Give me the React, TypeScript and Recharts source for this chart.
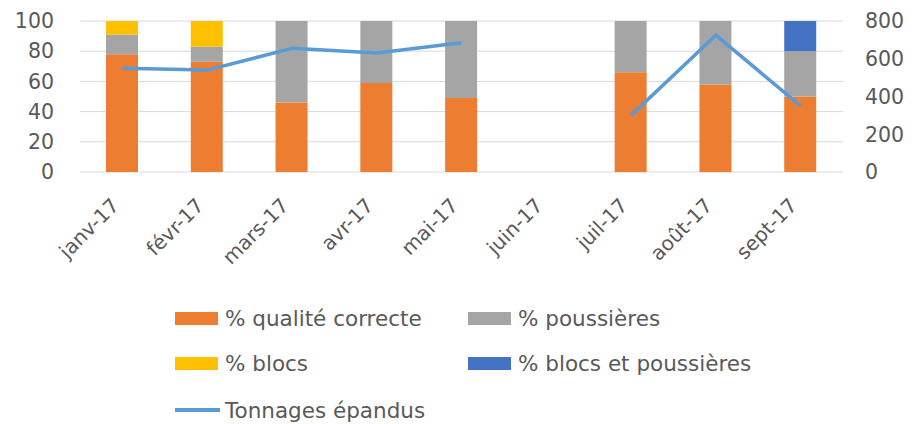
import React from 'react';
import { ComposedChart, Bar, Line, XAxis, YAxis, CartesianGrid, Legend } from 'recharts';

const months = ['janv-17', 'févr-17', 'mars-17', 'avr-17', 'mai-17', 'juin-17', 'juil-17', 'août-17', 'sept-17'];
const qualiteCorrecte = [78, 73, 46, 59, 49, null, 66, 58, 50];
const poussieres = [13, 10, 54, 41, 51, null, 34, 42, 30];
const blocs = [9, 17, 0, 0, 0, null, 0, 0, 0];
const blocsEtPoussieres = [0, 0, 0, 0, 0, null, 0, 0, 20];
const tonnages = [550, 540, 655, 630, 685, null, 300, 725, 350];
const leftTicks = [0, 20, 40, 60, 80, 100];
const rightTicks = [0, 200, 400, 600, 800];
const boundaryTicks = [0, 1, 2, 3, 4, 5, 6, 7, 8, 9];

const data = months.map((m, i) => ({
  month: m,
  qualite: qualiteCorrecte[i],
  poussieres: poussieres[i],
  blocs: blocs[i],
  blocsPouss: blocsEtPoussieres[i],
  tonnages: tonnages[i],
}));

const FONT = '"DejaVu Sans", sans-serif';
const TEXT = '#595959';

const legendPos: Record<string, { left: number; top: number }> = {
  qualite: { left: 175, top: 24 },
  poussieres: { left: 468, top: 24 },
  blocs: { left: 175, top: 69 },
  blocsPouss: { left: 468, top: 69 },
  tonnages: { left: 175, top: 116 },
};

const renderLegend = (props: any) => {
  const payload = props.payload || [];
  return (
    <div style={{ position: 'relative', width: 921, height: 130, fontFamily: FONT }}>
      {payload.map((p: any) => {
        const pos = legendPos[p.dataKey as string];
        if (!pos) return null;
        const isLine = p.dataKey === 'tonnages';
        return (
          <div
            key={p.dataKey}
            style={{ position: 'absolute', left: pos.left, top: pos.top - 15, height: 30, display: 'flex', alignItems: 'center', whiteSpace: 'nowrap' }}
          >
            <span
              style={{
                display: 'inline-block',
                width: isLine ? 45 : 43,
                height: isLine ? 3.5 : 13,
                background: p.color,
                marginRight: isLine ? 5 : 7,
              }}
            />
            <span style={{ fontSize: 21.5, color: TEXT }}>{p.value}</span>
          </div>
        );
      })}
    </div>
  );
};

const XTick = (props: any) => {
  const { x, payload } = props;
  const ax = x - 13;
  const ay = 196;
  return (
    <text
      x={ax}
      y={ay}
      textAnchor="end"
      dominantBaseline="hanging"
      transform={`rotate(-45, ${ax}, ${ay})`}
      fontFamily={FONT}
      fontSize={20}
      fill={TEXT}
    >
      {payload.value}
    </text>
  );
};

export default function App() {
  return (
    <div style={{ position: 'absolute', left: 0, top: 0, width: 921, height: 424, background: '#fff' }}>
      <ComposedChart
        width={921}
        height={424}
        data={data}
        margin={{ top: 21, right: 0, bottom: 0, left: 0 }}
        barCategoryGap={0}
      >
        <CartesianGrid yAxisId="left" horizontal vertical={false} stroke="#D9D9D9" strokeWidth={1} />
        <XAxis
          xAxisId="ticks"
          type="number"
          domain={[0, 9]}
          ticks={boundaryTicks}
          height={0}
          tick={false}
          tickSize={6}
          tickLine={{ stroke: '#D9D9D9' }}
          axisLine={{ stroke: '#D9D9D9' }}
          allowDataOverflow
        />
        <XAxis
          xAxisId="cat"
          dataKey="month"
          height={122}
          axisLine={false}
          tickLine={false}
          interval={0}
          tick={<XTick />}
        />
        <YAxis
          yAxisId="left"
          width={80}
          domain={[0, 100]}
          ticks={leftTicks}
          axisLine={false}
          tickLine={false}
          tickSize={0}
          tickMargin={26}
          tick={{ fontFamily: FONT, fontSize: 20.5, fill: TEXT }}
        />
        <YAxis
          yAxisId="right"
          orientation="right"
          width={78}
          domain={[0, 800]}
          ticks={rightTicks}
          axisLine={false}
          tickLine={false}
          tickSize={0}
          tickMargin={22}
          tick={{ fontFamily: FONT, fontSize: 20.5, fill: TEXT }}
        />
        <Legend content={renderLegend} wrapperStyle={{ left: 0, top: 294, width: 921, height: 130 }} />
        <Bar xAxisId="cat" yAxisId="left" dataKey="qualite" name="% qualité correcte" stackId="a" fill="#ED7D31" barSize={32} isAnimationActive={false} />
        <Bar xAxisId="cat" yAxisId="left" dataKey="poussieres" name="% poussières" stackId="a" fill="#A5A5A5" barSize={32} isAnimationActive={false} />
        <Bar xAxisId="cat" yAxisId="left" dataKey="blocs" name="% blocs" stackId="a" fill="#FFC000" barSize={32} isAnimationActive={false} />
        <Bar xAxisId="cat" yAxisId="left" dataKey="blocsPouss" name="% blocs et poussières" stackId="a" fill="#4472C4" barSize={32} isAnimationActive={false} />
        <Line
          xAxisId="cat"
          yAxisId="right"
          dataKey="tonnages"
          name="Tonnages épandus"
          type="linear"
          stroke="#5B9BD5"
          strokeWidth={3.5}
          dot={false}
          activeDot={false}
          connectNulls={false}
          strokeLinejoin="round"
          isAnimationActive={false}
        />
      </ComposedChart>
    </div>
  );
}
